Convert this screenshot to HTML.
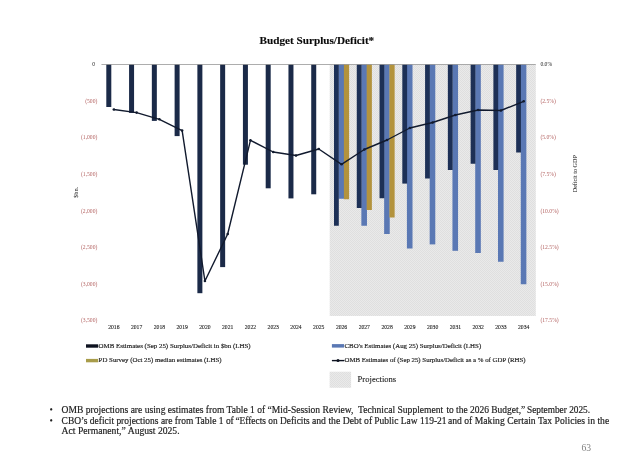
<!DOCTYPE html>
<html lang="en">
<head>
<meta charset="utf-8">
<title>Budget Surplus/Deficit</title>
<style>
html,body{margin:0;padding:0;background:#fff;}
body{width:623px;height:467px;overflow:hidden;font-family:"Liberation Serif",serif;}
svg{display:block;}
</style>
</head>
<body>
<svg width="623" height="467" viewBox="0 0 623 467" font-family="'Liberation Serif', serif">
<defs><pattern id="dots" width="2" height="2" patternUnits="userSpaceOnUse"><rect width="2" height="2" fill="#eaeaea"/><rect width="1" height="1" fill="#dfdfdf"/><rect x="1" y="1" width="1" height="1" fill="#dfdfdf"/></pattern></defs>
<rect width="623" height="467" fill="#fff"/>
<rect x="329.7" y="64.5" width="206.1" height="251.5" fill="url(#dots)"/>
<rect x="106.3" y="64.5" width="5" height="42.5" fill="#1b2a48"/>
<rect x="129.07" y="64.5" width="5" height="48.4" fill="#1b2a48"/>
<rect x="151.84" y="64.5" width="5" height="56.4" fill="#1b2a48"/>
<rect x="174.61" y="64.5" width="5" height="71.6" fill="#1b2a48"/>
<rect x="197.38" y="64.5" width="5" height="228.7" fill="#1b2a48"/>
<rect x="220.15" y="64.5" width="5" height="202.6" fill="#1b2a48"/>
<rect x="242.92" y="64.5" width="5" height="100.2" fill="#1b2a48"/>
<rect x="265.69" y="64.5" width="5" height="123.8" fill="#1b2a48"/>
<rect x="288.46" y="64.5" width="5" height="133.9" fill="#1b2a48"/>
<rect x="311.23" y="64.5" width="5" height="129.8" fill="#1b2a48"/>
<rect x="338.6" y="64.5" width="5.6" height="134.25" fill="#5a78b4"/>
<rect x="343.9" y="64.5" width="5.2" height="134.75" fill="#b3933d"/>
<rect x="334" y="64.5" width="4.8" height="161.25" fill="#1d3056"/>
<rect x="361.37" y="64.5" width="5.6" height="161.25" fill="#5a78b4"/>
<rect x="366.67" y="64.5" width="5.2" height="145.5" fill="#b3933d"/>
<rect x="356.77" y="64.5" width="4.8" height="143.5" fill="#1d3056"/>
<rect x="384.14" y="64.5" width="5.6" height="169.5" fill="#5a78b4"/>
<rect x="389.44" y="64.5" width="5.2" height="153" fill="#b3933d"/>
<rect x="379.54" y="64.5" width="4.8" height="133.75" fill="#1d3056"/>
<rect x="406.91" y="64.5" width="5.6" height="184" fill="#5a78b4"/>
<rect x="402.31" y="64.5" width="4.8" height="119.1" fill="#1d3056"/>
<rect x="429.68" y="64.5" width="5.6" height="179.9" fill="#5a78b4"/>
<rect x="425.08" y="64.5" width="4.8" height="114" fill="#1d3056"/>
<rect x="452.45" y="64.5" width="5.6" height="186.3" fill="#5a78b4"/>
<rect x="447.85" y="64.5" width="4.8" height="105.5" fill="#1d3056"/>
<rect x="475.22" y="64.5" width="5.6" height="188.5" fill="#5a78b4"/>
<rect x="470.62" y="64.5" width="4.8" height="99.25" fill="#1d3056"/>
<rect x="497.99" y="64.5" width="5.6" height="197.25" fill="#5a78b4"/>
<rect x="493.39" y="64.5" width="4.8" height="105.5" fill="#1d3056"/>
<rect x="520.76" y="64.5" width="5.6" height="219.75" fill="#5a78b4"/>
<rect x="516.16" y="64.5" width="4.8" height="88" fill="#1d3056"/>
<line x1="101.45" y1="64.5" x2="535.8" y2="64.5" stroke="#8a8a8a" stroke-width="0.7"/>
<polyline points="113.84,109.5 136.61,112.6 159.38,119.3 182.14,130.6 204.92,281 227.69,234 250.45,140.3 273.23,152 296,155.5 318.76,149 341.54,164.3 364.31,149.5 387.07,140 409.84,128 432.62,122.5 455.38,115 478.15,110 500.92,110.5 523.7,101.3" fill="none" stroke="#111a2e" stroke-width="1.4" stroke-linejoin="round"/>
<circle cx="113.84" cy="109.5" r="1.3" fill="#111a2e"/>
<circle cx="136.61" cy="112.6" r="1.3" fill="#111a2e"/>
<circle cx="159.38" cy="119.3" r="1.3" fill="#111a2e"/>
<circle cx="182.14" cy="130.6" r="1.3" fill="#111a2e"/>
<circle cx="204.92" cy="281" r="1.3" fill="#111a2e"/>
<circle cx="227.69" cy="234" r="1.3" fill="#111a2e"/>
<circle cx="250.45" cy="140.3" r="1.3" fill="#111a2e"/>
<circle cx="273.23" cy="152" r="1.3" fill="#111a2e"/>
<circle cx="296" cy="155.5" r="1.3" fill="#111a2e"/>
<circle cx="318.76" cy="149" r="1.3" fill="#111a2e"/>
<circle cx="341.54" cy="164.3" r="1.3" fill="#111a2e"/>
<circle cx="364.31" cy="149.5" r="1.3" fill="#111a2e"/>
<circle cx="387.07" cy="140" r="1.3" fill="#111a2e"/>
<circle cx="409.84" cy="128" r="1.3" fill="#111a2e"/>
<circle cx="432.62" cy="122.5" r="1.3" fill="#111a2e"/>
<circle cx="455.38" cy="115" r="1.3" fill="#111a2e"/>
<circle cx="478.15" cy="110" r="1.3" fill="#111a2e"/>
<circle cx="500.92" cy="110.5" r="1.3" fill="#111a2e"/>
<circle cx="523.7" cy="101.3" r="1.3" fill="#111a2e"/>
<text x="316.9" y="44.1" font-size="10.4" font-weight="bold" text-anchor="middle" fill="#0a0a0a" stroke="#0a0a0a" stroke-width="0.12" textLength="114.6" lengthAdjust="spacingAndGlyphs">Budget Surplus/Deficit*</text>
<text x="95" y="66.1" font-size="5.6" text-anchor="end" fill="#222">0</text>
<text x="97.3" y="102.7" font-size="5.6" text-anchor="end" fill="#b46463">(500)</text>
<text x="97.3" y="139.3" font-size="5.6" text-anchor="end" fill="#b46463">(1,000)</text>
<text x="97.3" y="175.9" font-size="5.6" text-anchor="end" fill="#b46463">(1,500)</text>
<text x="97.3" y="212.5" font-size="5.6" text-anchor="end" fill="#b46463">(2,000)</text>
<text x="97.3" y="249.1" font-size="5.6" text-anchor="end" fill="#b46463">(2,500)</text>
<text x="97.3" y="285.7" font-size="5.6" text-anchor="end" fill="#b46463">(3,000)</text>
<text x="97.3" y="322.3" font-size="5.6" text-anchor="end" fill="#b46463">(3,500)</text>
<text x="540.4" y="66.1" font-size="5.65" fill="#222">0.0%</text>
<text x="540.4" y="102.7" font-size="5.65" fill="#b46463">(2.5%)</text>
<text x="540.4" y="139.3" font-size="5.65" fill="#b46463">(5.0%)</text>
<text x="540.4" y="175.9" font-size="5.65" fill="#b46463">(7.5%)</text>
<text x="540.4" y="212.5" font-size="5.65" fill="#b46463">(10.0%)</text>
<text x="540.4" y="249.1" font-size="5.65" fill="#b46463">(12.5%)</text>
<text x="540.4" y="285.7" font-size="5.65" fill="#b46463">(15.0%)</text>
<text x="540.4" y="322.3" font-size="5.65" fill="#b46463">(17.5%)</text>
<text x="113.84" y="328.8" font-size="5.65" text-anchor="middle" fill="#1a1a1a" stroke="#1a1a1a" stroke-width="0.1">2016</text>
<text x="136.61" y="328.8" font-size="5.65" text-anchor="middle" fill="#1a1a1a" stroke="#1a1a1a" stroke-width="0.1">2017</text>
<text x="159.38" y="328.8" font-size="5.65" text-anchor="middle" fill="#1a1a1a" stroke="#1a1a1a" stroke-width="0.1">2018</text>
<text x="182.14" y="328.8" font-size="5.65" text-anchor="middle" fill="#1a1a1a" stroke="#1a1a1a" stroke-width="0.1">2019</text>
<text x="204.92" y="328.8" font-size="5.65" text-anchor="middle" fill="#1a1a1a" stroke="#1a1a1a" stroke-width="0.1">2020</text>
<text x="227.69" y="328.8" font-size="5.65" text-anchor="middle" fill="#1a1a1a" stroke="#1a1a1a" stroke-width="0.1">2021</text>
<text x="250.45" y="328.8" font-size="5.65" text-anchor="middle" fill="#1a1a1a" stroke="#1a1a1a" stroke-width="0.1">2022</text>
<text x="273.23" y="328.8" font-size="5.65" text-anchor="middle" fill="#1a1a1a" stroke="#1a1a1a" stroke-width="0.1">2023</text>
<text x="296" y="328.8" font-size="5.65" text-anchor="middle" fill="#1a1a1a" stroke="#1a1a1a" stroke-width="0.1">2024</text>
<text x="318.76" y="328.8" font-size="5.65" text-anchor="middle" fill="#1a1a1a" stroke="#1a1a1a" stroke-width="0.1">2025</text>
<text x="341.54" y="328.8" font-size="5.65" text-anchor="middle" fill="#1a1a1a" stroke="#1a1a1a" stroke-width="0.1">2026</text>
<text x="364.31" y="328.8" font-size="5.65" text-anchor="middle" fill="#1a1a1a" stroke="#1a1a1a" stroke-width="0.1">2027</text>
<text x="387.07" y="328.8" font-size="5.65" text-anchor="middle" fill="#1a1a1a" stroke="#1a1a1a" stroke-width="0.1">2028</text>
<text x="409.84" y="328.8" font-size="5.65" text-anchor="middle" fill="#1a1a1a" stroke="#1a1a1a" stroke-width="0.1">2029</text>
<text x="432.62" y="328.8" font-size="5.65" text-anchor="middle" fill="#1a1a1a" stroke="#1a1a1a" stroke-width="0.1">2030</text>
<text x="455.38" y="328.8" font-size="5.65" text-anchor="middle" fill="#1a1a1a" stroke="#1a1a1a" stroke-width="0.1">2031</text>
<text x="478.15" y="328.8" font-size="5.65" text-anchor="middle" fill="#1a1a1a" stroke="#1a1a1a" stroke-width="0.1">2032</text>
<text x="500.92" y="328.8" font-size="5.65" text-anchor="middle" fill="#1a1a1a" stroke="#1a1a1a" stroke-width="0.1">2033</text>
<text x="523.7" y="328.8" font-size="5.65" text-anchor="middle" fill="#1a1a1a" stroke="#1a1a1a" stroke-width="0.1">2034</text>
<text transform="translate(78.2,192.4) rotate(-90)" font-size="6.2" text-anchor="middle" fill="#222">$bn.</text>
<text transform="translate(576.6,173.7) rotate(-90)" font-size="5.9" text-anchor="middle" fill="#111" textLength="37.2" lengthAdjust="spacingAndGlyphs">Deficit to GDP</text>
<rect x="86" y="344.3" width="12.2" height="3.4" fill="#0d1220"/>
<text x="98.6" y="347.5" font-size="6.5" fill="#1a1a1a" stroke="#1a1a1a" stroke-width="0.15" textLength="152" lengthAdjust="spacingAndGlyphs">OMB Estimates (Sep 25) Surplus/Deficit in $bn (LHS)</text>
<rect x="86" y="358.9" width="12.2" height="3.4" fill="#a89c4a"/>
<text x="98.6" y="362.4" font-size="6.5" fill="#1a1a1a" stroke="#1a1a1a" stroke-width="0.15" textLength="123" lengthAdjust="spacingAndGlyphs">PD Survey (Oct 25) median estimates (LHS)</text>
<rect x="331.9" y="344.1" width="12.2" height="3.5" fill="#5a78b4"/>
<text x="344.5" y="347.5" font-size="6.5" fill="#1a1a1a" stroke="#1a1a1a" stroke-width="0.15" textLength="136.7" lengthAdjust="spacingAndGlyphs">CBO's Estimates (Aug 25) Surplus/Deficit (LHS)</text>
<line x1="331.9" y1="360.6" x2="344.3" y2="360.6" stroke="#0d1220" stroke-width="1.4"/><circle cx="338" cy="360.6" r="1.5" fill="#0d1220"/>
<text x="344.5" y="362.4" font-size="6.5" fill="#1a1a1a" stroke="#1a1a1a" stroke-width="0.15" textLength="181" lengthAdjust="spacingAndGlyphs">OMB Estimates of (Sep 25) Surplus/Deficit as a % of GDP (RHS)</text>
<rect x="329.6" y="371.7" width="21.5" height="16.1" fill="url(#dots)"/>
<text x="357.6" y="382.4" font-size="8.8" fill="#222" stroke="#222" stroke-width="0.12" textLength="38.6" lengthAdjust="spacingAndGlyphs">Projections</text>
<text x="49.6" y="413" font-size="9.7" fill="#222">•</text>
<text x="49.6" y="423.5" font-size="9.7" fill="#222">•</text>
<text x="61.6" y="413" font-size="9.7" fill="#222" stroke="#222" stroke-width="0.18" xml:space="preserve" textLength="381.6" lengthAdjust="spacingAndGlyphs">OMB projections are using estimates from Table 1 of “Mid-Session Review,  Technical Supplement</text>
<text x="446.4" y="413" font-size="9.7" fill="#222" stroke="#222" stroke-width="0.18" xml:space="preserve" textLength="78.8" lengthAdjust="spacingAndGlyphs">to the 2026 Budget,”</text>
<text x="527" y="413" font-size="9.7" fill="#222" stroke="#222" stroke-width="0.18" xml:space="preserve" textLength="63.1" lengthAdjust="spacingAndGlyphs">September 2025.</text>
<text x="61.6" y="423.5" font-size="9.7" fill="#222" stroke="#222" stroke-width="0.18" xml:space="preserve" textLength="172.2" lengthAdjust="spacingAndGlyphs">CBO’s deficit projections are from Table 1 of</text>
<text x="235.4" y="423.5" font-size="9.7" fill="#222" stroke="#222" stroke-width="0.18" xml:space="preserve" textLength="74.3" lengthAdjust="spacingAndGlyphs">“Effects on Deficits</text>
<text x="311.9" y="423.5" font-size="9.7" fill="#222" stroke="#222" stroke-width="0.18" xml:space="preserve" textLength="60.3" lengthAdjust="spacingAndGlyphs">and the Debt of</text>
<text x="374.2" y="423.5" font-size="9.7" fill="#222" stroke="#222" stroke-width="0.18" xml:space="preserve" textLength="72.4" lengthAdjust="spacingAndGlyphs">Public Law 119-21</text>
<text x="448" y="423.5" font-size="9.7" fill="#222" stroke="#222" stroke-width="0.18" xml:space="preserve" textLength="56.7" lengthAdjust="spacingAndGlyphs">and of Making</text>
<text x="507.3" y="423.5" font-size="9.7" fill="#222" stroke="#222" stroke-width="0.18" xml:space="preserve" textLength="101.9" lengthAdjust="spacingAndGlyphs">Certain Tax Policies in the</text>
<text x="61.6" y="433.8" font-size="9.7" fill="#222" stroke="#222" stroke-width="0.18" textLength="118" lengthAdjust="spacingAndGlyphs">Act Permanent,” August 2025.</text>
<text x="581.5" y="451.3" font-size="9.6" fill="#808080">63</text>
</svg>
</body>
</html>
